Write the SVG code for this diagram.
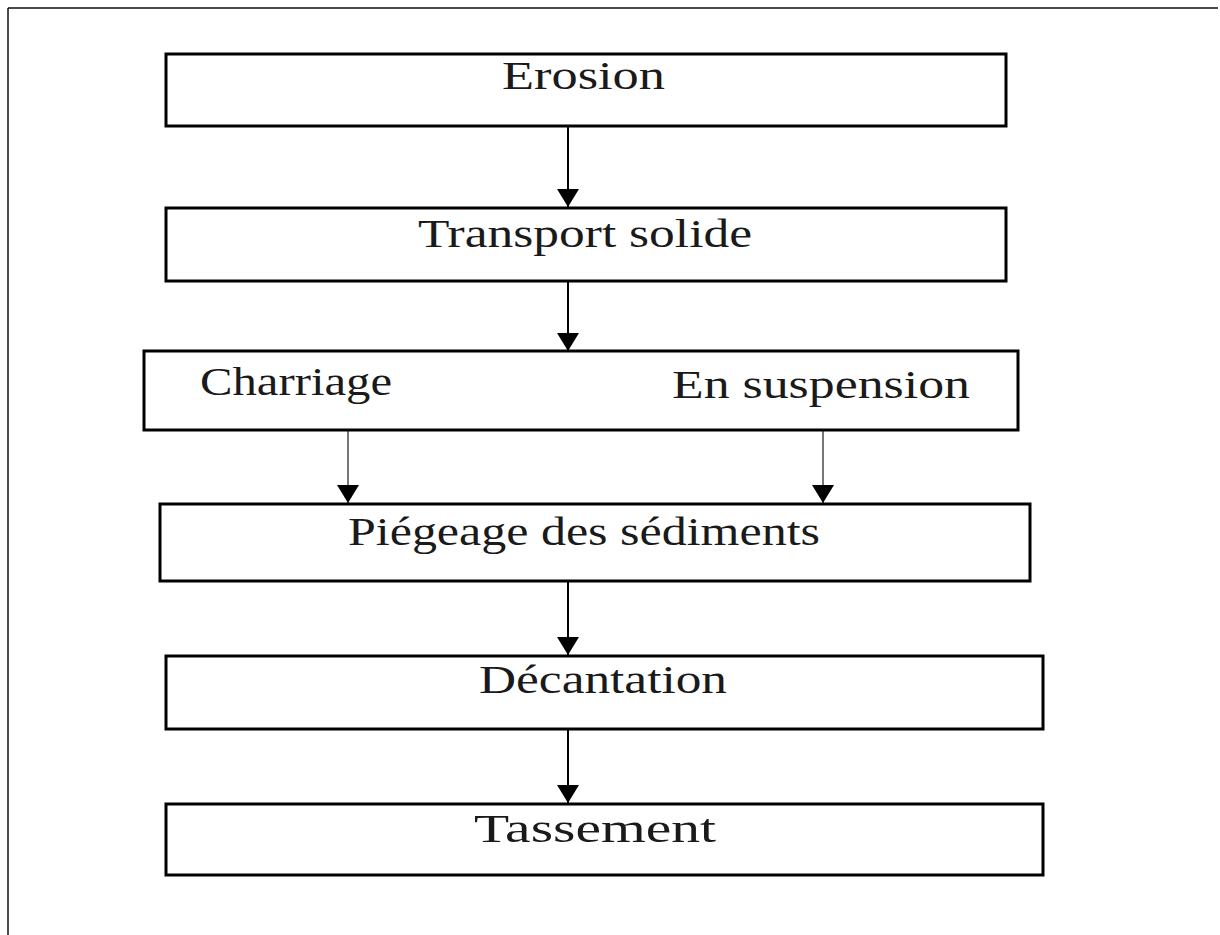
<svg xmlns="http://www.w3.org/2000/svg" width="1220" height="935" viewBox="0 0 1220 935">
<style>
.box{fill:#fff;stroke:#000;stroke-width:3}
.lbl{font-family:"Liberation Serif","Times New Roman",serif;font-size:41px;fill:#1a1a1a}
.c{stroke:#000;stroke-width:2;fill:none}
.g{stroke:#777;stroke-width:2;fill:none}
.frame{stroke:#111;stroke-width:1.5;fill:none}
</style>
<defs>
<marker id="ah" markerWidth="18" markerHeight="22" refX="18" refY="11" orient="auto" markerUnits="userSpaceOnUse" viewBox="0 0 18 22">
<path d="M0,0 L18,11 L0,22 Z" fill="#000"/>
</marker>
</defs>
<rect width="1220" height="935" fill="#fff"/>
<g id="frame">
<path class="frame" d="M8,8 H1218 M8,8 V935"/>
</g>
<g id="connectors">
<line class="c" x1="568" y1="127" x2="568" y2="207" marker-end="url(#ah)"/>
<line class="c" x1="568" y1="282" x2="568" y2="351" marker-end="url(#ah)"/>
<line class="g" x1="348" y1="431" x2="348" y2="503" marker-end="url(#ah)"/>
<line class="g" x1="823" y1="431" x2="823" y2="503" marker-end="url(#ah)"/>
<line class="c" x1="568" y1="582" x2="568" y2="655" marker-end="url(#ah)"/>
<line class="c" x1="568" y1="730" x2="568" y2="803" marker-end="url(#ah)"/>
</g>
<g id="erosion">
<rect class="box" x="166" y="54" width="840" height="72"/>
<text class="lbl" x="502" y="89" textLength="163" lengthAdjust="spacingAndGlyphs">Erosion</text>
</g>
<g id="transport">
<rect class="box" x="166" y="208" width="840" height="73"/>
<text class="lbl" x="418" y="247" textLength="334" lengthAdjust="spacingAndGlyphs">Transport solide</text>
</g>
<g id="modes">
<rect class="box" x="144" y="351" width="874" height="79"/>
<text class="lbl" x="200" y="395" textLength="192" lengthAdjust="spacingAndGlyphs">Charriage</text>
<text class="lbl" x="672" y="398" textLength="298" lengthAdjust="spacingAndGlyphs">En suspension</text>
</g>
<g id="piegeage">
<rect class="box" x="160" y="504" width="870" height="77"/>
<text class="lbl" x="348" y="545" textLength="472" lengthAdjust="spacingAndGlyphs">Piégeage des sédiments</text>
</g>
<g id="decantation">
<rect class="box" x="166" y="656" width="877" height="73"/>
<text class="lbl" x="479" y="693" textLength="248" lengthAdjust="spacingAndGlyphs">Décantation</text>
</g>
<g id="tassement">
<rect class="box" x="166" y="804" width="877" height="71"/>
<text class="lbl" x="474" y="842" textLength="242" lengthAdjust="spacingAndGlyphs">Tassement</text>
</g>
</svg>
